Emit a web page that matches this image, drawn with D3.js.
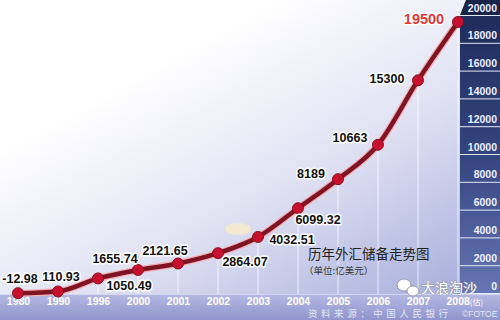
<!DOCTYPE html>
<html><head><meta charset="utf-8">
<script src="https://cdn.jsdelivr.net/npm/d3@7"></script>
<style>html,body{margin:0;padding:0;background:#fff;}svg{display:block;}</style>
</head><body>
<svg id="c" width="500" height="320"></svg>
<script>
// ---- data ----
const years = ["1980","1990","1996","2000","2001","2002","2003","2004","2005","2006","2007","2008"];
const values = [-12.98,110.93,1050.49,1655.74,2121.65,2864.07,4032.51,6099.32,8189,10663,15300,19500];
const valueLabels = ["-12.98","110.93","1050.49","1655.74","2121.65","2864.07","4032.51","6099.32","8189","10663","15300","19500"];
const yTicks = [0,2000,4000,6000,8000,10000,12000,14000,16000,18000,20000];
const title = "历年外汇储备走势图";
const subtitle = "（单位:亿美元）";
const source = "资料来源：中国人民银行";

// ---- layout (label offsets from each point) ----
const labelOffsets = [[2,-10],[3,-10],[31,12],[-23,-7],[-13,-9],[27,13],[34,7],[20,16],[-27,-1],[-28,-3],[-31,3],[-34,2]];

const svg = d3.select("#c");
const W = 500, H = 320;
const x = d3.scalePoint().domain(years).range([18, 458]);
const y = d3.scaleLinear().domain([0, 20000]).range([293, 15]);

const defs = svg.append("defs");
const bg = defs.append("linearGradient").attr("id","bg").attr("x1","0.2").attr("y1","0.3").attr("x2","0.8").attr("y2","1");
bg.append("stop").attr("offset","0").attr("stop-color","#ffffff");
bg.append("stop").attr("offset","0.5").attr("stop-color","#dfe1f2");
bg.append("stop").attr("offset","1").attr("stop-color","#aab0dc");
const band = defs.append("linearGradient").attr("id","band").attr("x1","0").attr("y1","0").attr("x2","0").attr("y2","1");
band.append("stop").attr("offset","0").attr("stop-color","#b4b8e2");
band.append("stop").attr("offset","1").attr("stop-color","#9096cc");
const ax = defs.append("linearGradient").attr("id","ax").attr("x1","0").attr("y1","0").attr("x2","0").attr("y2","1");
ax.append("stop").attr("offset","0").attr("stop-color","#1f2c5c");
ax.append("stop").attr("offset","0.5").attr("stop-color","#34447e");
ax.append("stop").attr("offset","1").attr("stop-color","#6676b4");

svg.append("rect").attr("width",W).attr("height",H).attr("fill","url(#bg)");

// decorative blob
svg.append("ellipse").attr("cx",238).attr("cy",229).attr("rx",13).attr("ry",6).attr("fill","#f6ecc8").attr("opacity",0.8);

// vertical faint gridlines
svg.append("g").selectAll("line").data(years).join("line")
  .attr("x1",d=>x(d)).attr("x2",d=>x(d))
  .attr("y1",(d,i)=>y(values[i])).attr("y2",296)
  .attr("stroke","#ffffff").attr("stroke-opacity",0.75).attr("stroke-width",1);

// bottom band
svg.append("rect").attr("x",0).attr("y",294).attr("width",W).attr("height",26).attr("fill","url(#band)");
svg.append("line").attr("x1",0).attr("x2",W).attr("y1",294.5).attr("y2",294.5).attr("stroke","#d4d7f0").attr("stroke-width",1);

// right axis panel
svg.append("rect").attr("x",460).attr("y",y(20000)).attr("width",40).attr("height",y(0)-y(20000)).attr("fill","url(#ax)");
svg.append("path").attr("d",`M460,${y(20000)}L466,0L500,0L500,${y(20000)}Z`).attr("fill","#1a2348");
const yAxis = d3.axisRight(y).tickValues(yTicks).tickSize(40).tickFormat(d3.format("d"));
const ga = svg.append("g").attr("transform","translate(460,0)").call(yAxis);
ga.select(".domain").remove();
ga.selectAll(".tick line").attr("stroke","#e6e9f8").attr("stroke-width",1);
ga.selectAll(".tick text").attr("x",37).attr("dy",-4).attr("text-anchor","end")
  .attr("fill","#eef0ff").attr("font-family","Liberation Sans, Arial, sans-serif")
  .attr("font-weight","bold").attr("font-size","10.5px");

// x axis labels
const xAxis = d3.axisBottom(x).tickSize(0).tickFormat(d=>d);
const gx = svg.append("g").attr("transform","translate(0,296)").call(xAxis);
gx.select(".domain").remove();
gx.selectAll(".tick text").attr("y",2).attr("dy","0.71em")
  .attr("fill","#ffffff")
  .attr("font-family","Liberation Sans, Arial, sans-serif").attr("font-weight","bold").attr("font-size","10.5px");
gx.selectAll(".tick").filter(d=>d==="2008").select("text").attr("text-anchor","start").attr("x",-12)
  .append("tspan").attr("font-size","8px").attr("font-family","Noto Sans CJK SC").attr("font-weight","normal").text("(估)");

// line
const line = d3.line().x((d,i)=>x(years[i])).y(d=>y(d)).curve(d3.curveMonotoneX);
svg.append("path").datum(values).attr("d",line).attr("fill","none").attr("stroke","#f4b0b8").attr("stroke-width",7).attr("stroke-linecap","round");
svg.append("path").datum(values).attr("d",line).attr("fill","none").attr("stroke","#7e1424").attr("stroke-width",4.5).attr("stroke-linecap","round");

// dots
svg.append("g").selectAll("circle").data(values).join("circle")
  .attr("cx",(d,i)=>x(years[i])).attr("cy",d=>y(d)).attr("r",5.5)
  .attr("fill","#c8102e").attr("stroke","#8a1020").attr("stroke-width",1);

// value labels
svg.append("g").selectAll("text").data(valueLabels).join("text")
  .attr("x",(d,i)=>x(years[i])+labelOffsets[i][0])
  .attr("y",(d,i)=>y(values[i])+labelOffsets[i][1])
  .attr("text-anchor","middle")
  .attr("font-family","Liberation Sans, Arial, sans-serif").attr("font-weight","bold")
  .attr("font-size",(d,i)=>i===values.length-1?"14.5px":"12.5px")
  .attr("fill",(d,i)=>i===values.length-1?"#e0383c":"#111111")
  .attr("stroke","#ffffff").attr("stroke-width",3).attr("paint-order","stroke").attr("stroke-linejoin","round")
  .text(d=>d);

// title
svg.append("text").attr("x",308).attr("y",259).attr("font-family","Noto Sans CJK SC, sans-serif")
  .attr("font-size","13.5px").attr("fill","#222").text(title);
svg.append("text").attr("x",304).attr("y",274).attr("font-family","Noto Sans CJK SC, sans-serif")
  .attr("font-size","9.5px").attr("fill","#333").text(subtitle);

// source & credit
svg.append("text").attr("x",308).attr("y",317).attr("font-family","Noto Sans CJK SC, sans-serif")
  .attr("font-size","9.5px").attr("fill","#eceefa").attr("opacity",0.9).attr("textLength",140).text(source);
svg.append("text").attr("x",462).attr("y",317).attr("font-family","Liberation Sans, Arial, sans-serif")
  .attr("font-size","8.5px").attr("fill","#eceefa").attr("opacity",0.9).text("©FOTOE");

// watermark
const wm = svg.append("g");
wm.append("ellipse").attr("cx",404).attr("cy",285).attr("rx",7).attr("ry",6).attr("fill","#ffffff").attr("stroke","#9a9aa8").attr("stroke-width",1);
wm.append("ellipse").attr("cx",413).attr("cy",291).attr("rx",6).attr("ry",5).attr("fill","#ffffff").attr("stroke","#9a9aa8").attr("stroke-width",1);
wm.append("text").attr("x",421).attr("y",293).attr("font-family","Noto Sans CJK SC, sans-serif")
  .attr("font-size","14px").attr("fill","#ffffff").attr("stroke","#8c8c9c").attr("stroke-width",0.8)
  .attr("paint-order","stroke").text("大浪淘沙");
</script>
</body></html>
